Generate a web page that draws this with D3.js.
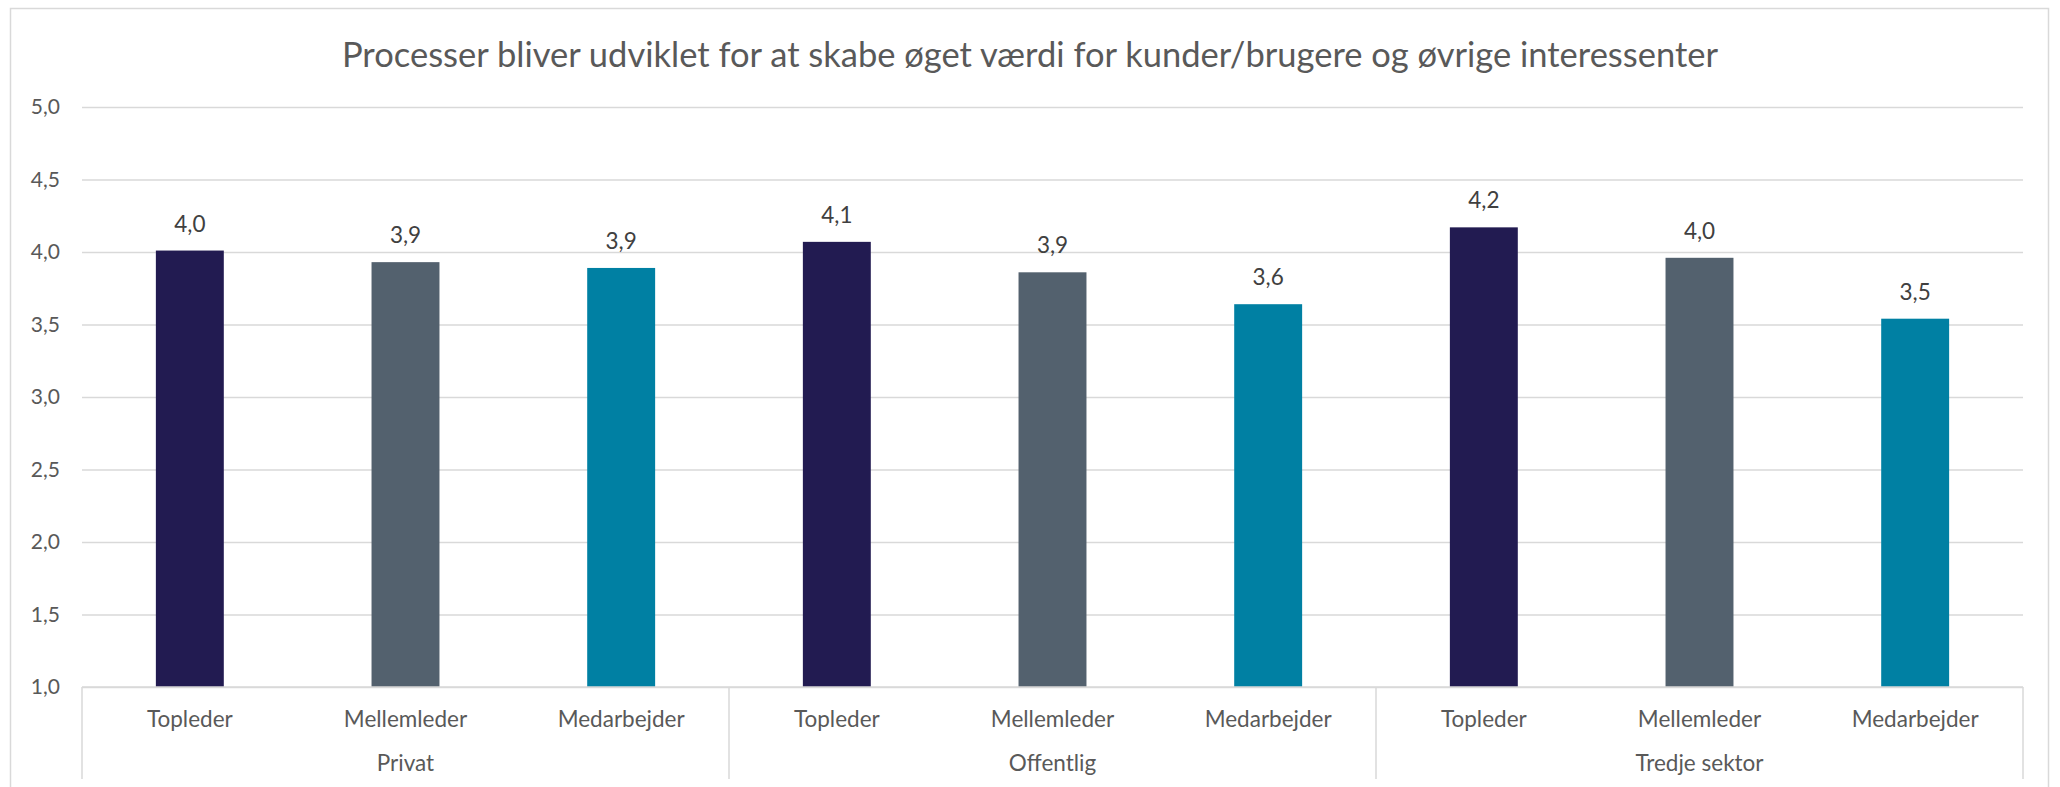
<!DOCTYPE html>
<html>
<head>
<meta charset="utf-8">
<script src="https://cdn.jsdelivr.net/npm/d3@7"></script>
<style>
  body { margin: 0; background: #fff; }
  svg text { font-family: Lato, 'Open Sans', sans-serif; }
</style>
</head>
<body>
<div id="chart"></div>
<script>
const title = 'Processer bliver udviklet for at skabe øget værdi for kunder/brugere og øvrige interessenter'
const groups = ['Privat', 'Offentlig', 'Tredje sektor']
const roles = ['Topleder', 'Mellemleder', 'Medarbejder']
const privatValues = [4.01, 3.93, 3.89]
const offentligValues = [4.07, 3.86, 3.64]
const tredjeValues = [4.17, 3.96, 3.54]
const yTicks = [1.0, 1.5, 2.0, 2.5, 3.0, 3.5, 4.0, 4.5, 5.0]
const roleColors = ['#221B51', '#53616E', '#0080A3']

const width = 2060
const height = 787
const margins = { top: 107, right: 37, bottom: 100, left: 82 }
const inner = {
  width: width - margins.left - margins.right,
  height: height - margins.top - margins.bottom
}

const rows = []
const seriesByGroup = [privatValues, offentligValues, tredjeValues]
groups.forEach((g, gi) => {
  roles.forEach((r, ri) => {
    rows.push({ group: g, role: r, roleIndex: ri, value: seriesByGroup[gi][ri] })
  })
})

const locale = d3.formatLocale({ decimal: ',', thousands: '.', grouping: [3], currency: ['', ''] })
const fmt = locale.format('.1f')

const svg = d3.select('#chart')
  .append('svg')
  .attr('width', width)
  .attr('height', height)

// outer chart frame
svg.append('rect')
  .attr('x', 10.5)
  .attr('y', 8.5)
  .attr('width', 2038)
  .attr('height', 800)
  .attr('fill', 'none')
  .attr('stroke', '#D9D9D9')
  .attr('stroke-width', 1.5)

svg.append('text')
  .attr('x', width / 2)
  .attr('y', 67)
  .attr('text-anchor', 'middle')
  .attr('font-size', 34.5)
  .attr('fill', '#595959')
  .text(title)

const chart = svg.append('g')
  .attr('transform', `translate(${margins.left}, ${margins.top})`)

const xGroup = d3.scaleBand()
  .domain(groups)
  .range([0, inner.width])

const xRole = d3.scaleBand()
  .domain(roles)
  .range([0, xGroup.bandwidth()])
  .paddingInner(0.685)
  .paddingOuter(0.3425)

const y = d3.scaleLinear()
  .domain([1, 5])
  .range([inner.height, 0])

// gridlines + y labels
chart.append('g')
  .call(d3.axisLeft(y).tickValues(yTicks).tickSize(-inner.width).tickFormat(fmt).tickPadding(22))
  .call(g => g.select('.domain').remove())
  .call(g => g.selectAll('.tick line').attr('stroke', '#D9D9D9').attr('stroke-width', 1.5))
  .call(g => g.selectAll('.tick text').attr('fill', '#595959').attr('font-size', 21).attr('font-family', 'Lato, sans-serif'))

// bars
chart.append('g')
  .selectAll('rect')
  .data(rows)
  .join('rect')
  .attr('x', d => xGroup(d.group) + xRole(d.role))
  .attr('y', d => y(d.value))
  .attr('width', xRole.bandwidth())
  .attr('height', d => y(1) - y(d.value))
  .attr('fill', d => roleColors[d.roleIndex])

// data labels
chart.append('g')
  .selectAll('text')
  .data(rows)
  .join('text')
  .attr('x', d => xGroup(d.group) + xRole(d.role) + xRole.bandwidth() / 2)
  .attr('y', d => y(d.value) - 19)
  .attr('text-anchor', 'middle')
  .attr('font-size', 22.5)
  .attr('fill', '#404040')
  .text(d => fmt(d.value))

// category axis: baseline + dividers
const axis = chart.append('g')
  .attr('transform', `translate(0, ${inner.height})`)

axis.append('line')
  .attr('x1', 0)
  .attr('x2', inner.width)
  .attr('stroke', '#D9D9D9')
  .attr('stroke-width', 1.5)

const dividers = groups.map(g => xGroup(g)).concat([inner.width])
axis.selectAll('.divider')
  .data(dividers)
  .join('line')
  .attr('class', 'divider')
  .attr('x1', d => d)
  .attr('x2', d => d)
  .attr('y1', 0)
  .attr('y2', 92)
  .attr('stroke', '#D9D9D9')
  .attr('stroke-width', 1.5)

axis.selectAll('.role-label')
  .data(rows)
  .join('text')
  .attr('class', 'role-label')
  .attr('x', d => xGroup(d.group) + xRole(d.role) + xRole.bandwidth() / 2)
  .attr('y', 40)
  .attr('text-anchor', 'middle')
  .attr('font-size', 22.5)
  .attr('fill', '#595959')
  .text(d => d.role)

axis.selectAll('.group-label')
  .data(groups)
  .join('text')
  .attr('class', 'group-label')
  .attr('x', d => xGroup(d) + xGroup.bandwidth() / 2)
  .attr('y', 84)
  .attr('text-anchor', 'middle')
  .attr('font-size', 22.5)
  .attr('fill', '#595959')
  .text(d => d)
</script>
</body>
</html>
